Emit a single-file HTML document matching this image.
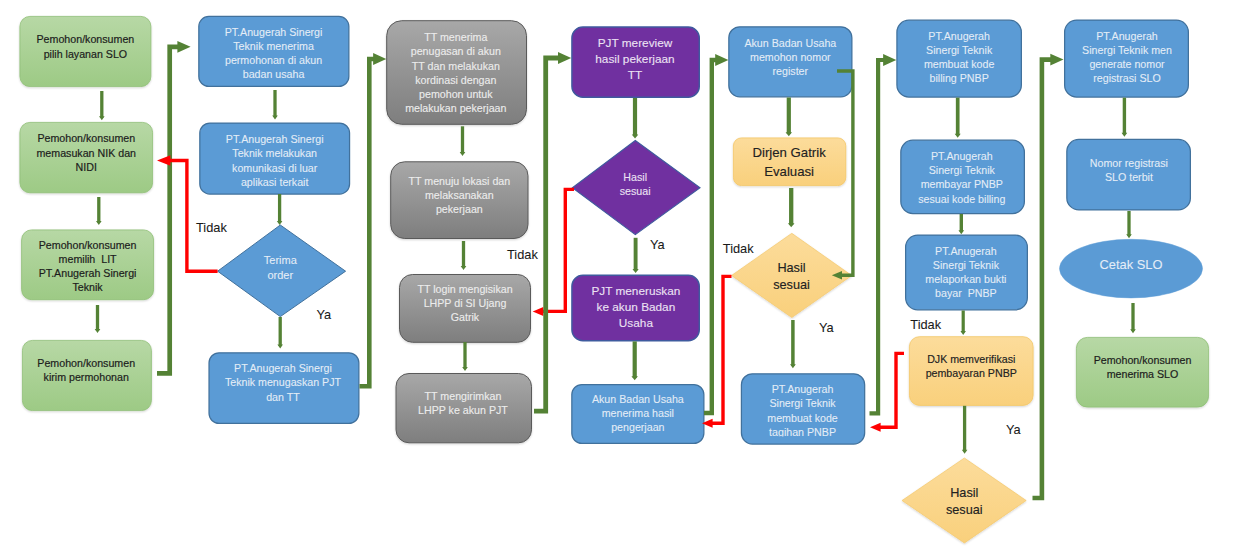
<!DOCTYPE html>
<html lang="id">
<head>
<meta charset="utf-8">
<title>Alur SLO</title>
<style>
html,body{margin:0;padding:0;background:#fff;}
body{width:1233px;height:559px;overflow:hidden;}
svg{display:block;}
text{font-family:"Liberation Sans",Arial,Helvetica,sans-serif;}
</style>
</head>
<body>
<svg width="1233" height="559" viewBox="0 0 1233 559">
<defs>
<linearGradient id="gGreen" x1="0" y1="0" x2="0" y2="1"><stop offset="0" stop-color="#b7d8a5"/><stop offset="1" stop-color="#9dca85"/></linearGradient>
<linearGradient id="gGray" x1="0" y1="0" x2="0" y2="1"><stop offset="0" stop-color="#a8a8a8"/><stop offset="1" stop-color="#7e7e7e"/></linearGradient>
<linearGradient id="gOrange" x1="0" y1="0" x2="0" y2="1"><stop offset="0" stop-color="#fcdc9b"/><stop offset="1" stop-color="#f9d07c"/></linearGradient>
<filter id="sh" x="-10%" y="-10%" width="120%" height="125%"><feGaussianBlur in="SourceAlpha" stdDeviation="1.2"/><feOffset dy="1"/><feComponentTransfer><feFuncA type="linear" slope="0.18"/></feComponentTransfer><feMerge><feMergeNode/><feMergeNode in="SourceGraphic"/></feMerge></filter>
</defs>
<rect width="1233" height="559" fill="#ffffff"/>

<g id="shapes">
<rect x="19.90" y="16.40" width="131.00" height="70.20" rx="10" ry="10" fill="url(#gGreen)" stroke="#8fbf76" stroke-width="0.8" filter="url(#sh)"/>
<rect x="19.90" y="122.40" width="132.70" height="70.40" rx="10" ry="10" fill="url(#gGreen)" stroke="#8fbf76" stroke-width="0.8" filter="url(#sh)"/>
<rect x="21.60" y="229.90" width="132.00" height="69.80" rx="10" ry="10" fill="url(#gGreen)" stroke="#8fbf76" stroke-width="0.8" filter="url(#sh)"/>
<rect x="22.40" y="340.40" width="129.00" height="70.20" rx="10" ry="10" fill="url(#gGreen)" stroke="#8fbf76" stroke-width="0.8" filter="url(#sh)"/>
<rect x="198.82" y="16.43" width="150.05" height="69.95" rx="10" ry="10" fill="#5b9bd5" stroke="#41719c" stroke-width="1.25"/>
<rect x="199.82" y="123.12" width="149.75" height="70.95" rx="10" ry="10" fill="#5b9bd5" stroke="#41719c" stroke-width="1.25"/>
<rect x="209.03" y="352.82" width="149.85" height="70.55" rx="10" ry="10" fill="#5b9bd5" stroke="#41719c" stroke-width="1.25"/>
<rect x="386.70" y="20.70" width="139.80" height="103.60" rx="15" ry="15" fill="url(#gGray)" stroke="#5a5a5a" stroke-width="1.0" filter="url(#sh)"/>
<rect x="390.70" y="161.80" width="137.30" height="76.70" rx="14" ry="14" fill="url(#gGray)" stroke="#5a5a5a" stroke-width="1.0" filter="url(#sh)"/>
<rect x="399.50" y="274.50" width="131.00" height="67.80" rx="13" ry="13" fill="url(#gGray)" stroke="#5a5a5a" stroke-width="1.0" filter="url(#sh)"/>
<rect x="396.00" y="373.50" width="135.50" height="69.30" rx="13" ry="13" fill="url(#gGray)" stroke="#5a5a5a" stroke-width="1.0" filter="url(#sh)"/>
<rect x="571.90" y="27.00" width="127.40" height="70.30" rx="11" ry="11" fill="#7030a0" stroke="#3f5a9e" stroke-width="1.4"/>
<rect x="571.90" y="275.30" width="127.40" height="65.40" rx="11" ry="11" fill="#7030a0" stroke="#3f5a9e" stroke-width="1.4"/>
<rect x="571.83" y="384.62" width="132.05" height="58.75" rx="10" ry="10" fill="#5b9bd5" stroke="#41719c" stroke-width="1.25"/>
<rect x="728.83" y="26.82" width="123.05" height="70.05" rx="11" ry="11" fill="#5b9bd5" stroke="#41719c" stroke-width="1.25"/>
<rect x="733.40" y="137.90" width="112.40" height="47.70" rx="8" ry="8" fill="url(#gOrange)" stroke="#f4c766" stroke-width="0.8" filter="url(#sh)"/>
<rect x="741.42" y="373.82" width="123.25" height="70.25" rx="11" ry="11" fill="#5b9bd5" stroke="#41719c" stroke-width="1.25"/>
<rect x="896.92" y="20.23" width="124.45" height="76.85" rx="12" ry="12" fill="#5b9bd5" stroke="#41719c" stroke-width="1.25"/>
<rect x="900.83" y="140.22" width="123.55" height="73.35" rx="12" ry="12" fill="#5b9bd5" stroke="#41719c" stroke-width="1.25"/>
<rect x="905.62" y="235.12" width="121.75" height="74.75" rx="12" ry="12" fill="#5b9bd5" stroke="#41719c" stroke-width="1.25"/>
<rect x="909.40" y="336.70" width="123.70" height="68.70" rx="10" ry="10" fill="url(#gOrange)" stroke="#f4c766" stroke-width="0.8" filter="url(#sh)"/>
<rect x="1064.62" y="20.12" width="123.75" height="76.95" rx="12" ry="12" fill="#5b9bd5" stroke="#41719c" stroke-width="1.25"/>
<rect x="1066.83" y="139.43" width="123.55" height="70.45" rx="12" ry="12" fill="#5b9bd5" stroke="#41719c" stroke-width="1.25"/>
<rect x="1076.40" y="337.40" width="132.20" height="69.70" rx="11" ry="11" fill="url(#gGreen)" stroke="#8fbf76" stroke-width="0.8" filter="url(#sh)"/>
<polygon points="280.3,225 345.6,271.2 280.3,316.6 217.6,271.2" fill="#5b9bd5" stroke="#41719c" stroke-width="1.00" stroke-linejoin="miter"/>
<polygon points="635.3,140.5 700,187.8 635.3,234.6 572.4,187.8" fill="#7030a0" stroke="#3f5a9e" stroke-width="1.12" stroke-linejoin="miter"/>
<polygon points="791.8,233.3 851.8,275.5 791.8,317.6 731.5,275.5" fill="url(#gOrange)" stroke="#f4c766" stroke-width="0.64" stroke-linejoin="miter" filter="url(#sh)"/>
<polygon points="964.4,458 1026.2,500.5 964.4,543 902,500.5" fill="url(#gOrange)" stroke="#f4c766" stroke-width="0.64" stroke-linejoin="miter" filter="url(#sh)"/>
<ellipse cx="1131" cy="268.6" rx="71.5" ry="29.3" fill="#5b9bd5" stroke="#5b9bd5" stroke-width="0.5"/>
</g>
<g id="red-under">
<path d="M574,189.4 H565.3 V311.4 H540.7" fill="none" stroke="#ff0000" stroke-width="3.4" stroke-linejoin="miter"/><path d="M532.7,311.4 L543.3000000000001,306.9 V315.9 Z" fill="#ff0000"/>
<path d="M731.5,276.4 H723 V423.2 H710" fill="none" stroke="#ff0000" stroke-width="3.4" stroke-linejoin="miter"/><path d="M702,423.2 L712.6,418.7 V427.7 Z" fill="#ff0000"/>
<path d="M904,353.4 H896 V427.2 H878" fill="none" stroke="#ff0000" stroke-width="3.4" stroke-linejoin="miter"/><path d="M870,427.2 L880.6,422.7 V431.7 Z" fill="#ff0000"/>
</g>
<g id="arrows" stroke="#548235" fill="#548235">
<path d="M101.8,91 V117.8" stroke-width="3.3" fill="none"/>
<path d="M99.00,116.30 H104.60 L101.8,120.3 Z" stroke="none"/>
<path d="M98.8,197 V222.5" stroke-width="3.3" fill="none"/>
<path d="M96.00,221.00 H101.60 L98.8,225 Z" stroke="none"/>
<path d="M97.5,305 V330.5" stroke-width="3.3" fill="none"/>
<path d="M94.70,329.00 H100.30 L97.5,333 Z" stroke="none"/>
<path d="M275,90 V117.0" stroke-width="3.3" fill="none"/>
<path d="M272.20,115.50 H277.80 L275,119.5 Z" stroke="none"/>
<path d="M279.6,194 V222.5" stroke-width="3.3" fill="none"/>
<path d="M276.80,221.00 H282.40 L279.6,225 Z" stroke="none"/>
<path d="M280.2,317 V346.0" stroke-width="3.3" fill="none"/>
<path d="M277.40,344.50 H283.00 L280.2,348.5 Z" stroke="none"/>
<path d="M462.5,126.3 V153.5" stroke-width="3.3" fill="none"/>
<path d="M459.70,152.00 H465.30 L462.5,156 Z" stroke="none"/>
<path d="M463.5,241 V267.5" stroke-width="3.3" fill="none"/>
<path d="M460.70,266.00 H466.30 L463.5,270 Z" stroke="none"/>
<path d="M465,342 V368.5" stroke-width="3.3" fill="none"/>
<path d="M462.20,367.00 H467.80 L465,371 Z" stroke="none"/>
<path d="M635,98 V136.1" stroke-width="4.2" fill="none"/>
<path d="M631.75,134.60 H638.25 L635,138.6 Z" stroke="none"/>
<path d="M635.6,237.8 V270.4" stroke-width="3.9" fill="none"/>
<path d="M632.50,268.90 H638.70 L635.6,272.9 Z" stroke="none"/>
<path d="M634.7,341.4 V377.7" stroke-width="4.2" fill="none"/>
<path d="M631.45,376.20 H637.95 L634.7,380.2 Z" stroke="none"/>
<path d="M788.8,97.5 V133.7" stroke-width="4.2" fill="none"/>
<path d="M785.55,132.20 H792.05 L788.8,136.2 Z" stroke="none"/>
<path d="M791.2,188 V224.8" stroke-width="4.3" fill="none"/>
<path d="M787.90,223.30 H794.50 L791.2,227.3 Z" stroke="none"/>
<path d="M792.9,320 V365.8" stroke-width="3.5" fill="none"/>
<path d="M790.00,364.30 H795.80 L792.9,368.3 Z" stroke="none"/>
<path d="M957.7,97.7 V135.2" stroke-width="3.7" fill="none"/>
<path d="M954.70,133.70 H960.70 L957.7,137.7 Z" stroke="none"/>
<path d="M961.3,214 V231.7" stroke-width="3.4" fill="none"/>
<path d="M958.45,230.20 H964.15 L961.3,234.2 Z" stroke="none"/>
<path d="M963.2,310.5 V332.5" stroke-width="3.2" fill="none"/>
<path d="M960.45,331.00 H965.95 L963.2,335 Z" stroke="none"/>
<path d="M964.6,405.8 V451.3" stroke-width="3.3" fill="none"/>
<path d="M961.80,449.80 H967.40 L964.6,453.8 Z" stroke="none"/>
<path d="M1124.4,97.7 V134.2" stroke-width="3.4" fill="none"/>
<path d="M1121.55,132.70 H1127.25 L1124.4,136.7 Z" stroke="none"/>
<path d="M1129,211 V235.7" stroke-width="3.3" fill="none"/>
<path d="M1126.20,234.20 H1131.80 L1129,238.2 Z" stroke="none"/>
<path d="M1133,303 V330.7" stroke-width="3.3" fill="none"/>
<path d="M1130.20,329.20 H1135.80 L1133,333.2 Z" stroke="none"/>
<path d="M837,71 H852.9 V275.2 H838" stroke-width="3.4" fill="none"/>
<path d="M831.8,275.2 L842,271 V279.4 Z" stroke="none"/>
</g>
<g id="elbows" stroke="#548235" fill="none" stroke-linejoin="miter">
<path d="M157,373.4 H169.7 V46.8 H179.6" stroke-width="4.7"/>
<path d="M190.6,46.8 L177.4,40.9 V52.699999999999996 Z" fill="#548235" stroke="none"/>
<path d="M359.5,386.2 H369.3 V59 H375.3" stroke-width="4.6"/>
<path d="M386.3,59 L373.1,53.1 V64.9 Z" fill="#548235" stroke="none"/>
<path d="M534,411.2 H545.7 V58 H560.2" stroke-width="4.8"/>
<path d="M571.2,58 L558.0,52.1 V63.9 Z" fill="#548235" stroke="none"/>
<path d="M704,413 H711.8 V60 H717.4" stroke-width="4.4"/>
<path d="M728.4,60 L715.1999999999999,54.1 V65.9 Z" fill="#548235" stroke="none"/>
<path d="M869.5,413.4 H878.1 V60 H885.3" stroke-width="4.2"/>
<path d="M896.3,60 L883.0999999999999,54.1 V65.9 Z" fill="#548235" stroke="none"/>
<path d="M1032.5,498 H1041.9 V59.6 H1052.5" stroke-width="4.6"/>
<path d="M1063.5,59.6 L1050.3,53.7 V65.5 Z" fill="#548235" stroke="none"/>
</g>
<g id="red-over">
<path d="M217.6,271.3 H186.9 V160.5 H165" fill="none" stroke="#ff0000" stroke-width="3.4" stroke-linejoin="miter"/><path d="M157,160.5 L170.4,155.3 V165.7 Z" fill="#ff0000"/>
</g>
<defs><clipPath id="cutTag"><rect x="740" y="373" width="126" height="63.4"/></clipPath></defs>
<g id="labels" stroke-width="0.08" stroke-linejoin="round">
<text x="85.40" text-anchor="middle" font-size="10.67" fill="#1c1c1c" stroke="#1c1c1c" stroke-width="0.18" xml:space="preserve"><tspan x="85.40" y="43.20">Pemohon/konsumen</tspan><tspan x="85.40" y="57.50">pilih layanan SLO</tspan></text>
<text x="86.25" text-anchor="middle" font-size="10.67" fill="#1c1c1c" stroke="#1c1c1c" stroke-width="0.18" xml:space="preserve"><tspan x="86.25" y="142.20">Pemohon/konsumen</tspan><tspan x="86.25" y="156.60">memasukan NIK dan</tspan><tspan x="86.25" y="171.00">NIDI</tspan></text>
<text x="87.60" text-anchor="middle" font-size="10.67" fill="#1c1c1c" stroke="#1c1c1c" stroke-width="0.18" xml:space="preserve"><tspan x="87.60" y="248.70">Pemohon/konsumen</tspan><tspan x="87.60" y="262.90">memilih  LIT</tspan><tspan x="87.60" y="277.10">PT.Anugerah Sinergi</tspan><tspan x="87.60" y="291.30">Teknik</tspan></text>
<text x="86.20" text-anchor="middle" font-size="10.67" fill="#1c1c1c" stroke="#1c1c1c" stroke-width="0.18" xml:space="preserve"><tspan x="86.20" y="367.00">Pemohon/konsumen</tspan><tspan x="86.20" y="381.30">kirim permohonan</tspan></text>
<text x="273.55" text-anchor="middle" font-size="10.67" fill="#e4edf7" stroke="#e4edf7" stroke-width="0.08" xml:space="preserve"><tspan x="273.55" y="36.20">PT.Anugerah Sinergi</tspan><tspan x="273.55" y="50.20">Teknik menerima</tspan><tspan x="273.55" y="64.20">permohonan di akun</tspan><tspan x="273.55" y="78.20">badan usaha</tspan></text>
<text x="274.70" text-anchor="middle" font-size="10.67" fill="#e4edf7" stroke="#e4edf7" stroke-width="0.08" xml:space="preserve"><tspan x="274.70" y="143.00">PT.Anugerah Sinergi</tspan><tspan x="274.70" y="157.25">Teknik melakukan</tspan><tspan x="274.70" y="171.50">komunikasi di luar</tspan><tspan x="274.70" y="185.75">aplikasi terkait</tspan></text>
<text x="282.95" text-anchor="middle" font-size="10.67" fill="#e4edf7" stroke="#e4edf7" stroke-width="0.08" xml:space="preserve"><tspan x="282.95" y="372.00">PT.Anugerah Sinergi</tspan><tspan x="282.95" y="386.25">Teknik menugaskan PJT</tspan><tspan x="282.95" y="400.50">dan TT</tspan></text>
<text x="455.80" text-anchor="middle" font-size="10.67" fill="#ececec" stroke="#ececec" stroke-width="0.12" xml:space="preserve"><tspan x="455.80" y="41.20">TT menerima</tspan><tspan x="455.80" y="55.40">penugasan di akun</tspan><tspan x="455.80" y="69.60">TT dan melakukan</tspan><tspan x="455.80" y="83.80">kordinasi dengan</tspan><tspan x="455.80" y="98.00">pemohon untuk</tspan><tspan x="455.80" y="112.20">melakukan pekerjaan</tspan></text>
<text x="459.35" text-anchor="middle" font-size="10.67" fill="#ececec" stroke="#ececec" stroke-width="0.12" xml:space="preserve"><tspan x="459.35" y="184.50">TT menuju lokasi dan</tspan><tspan x="459.35" y="198.75">melaksanakan</tspan><tspan x="459.35" y="213.00">pekerjaan</tspan></text>
<text x="465.00" text-anchor="middle" font-size="10.67" fill="#ececec" stroke="#ececec" stroke-width="0.12" xml:space="preserve"><tspan x="465.00" y="293.00">TT login mengisikan</tspan><tspan x="465.00" y="307.00">LHPP di SI Ujang</tspan><tspan x="465.00" y="321.00">Gatrik</tspan></text>
<text x="462.95" text-anchor="middle" font-size="10.67" fill="#ececec" stroke="#ececec" stroke-width="0.12" xml:space="preserve"><tspan x="462.95" y="399.50">TT mengirimkan</tspan><tspan x="462.95" y="413.75">LHPP ke akun PJT</tspan></text>
<text x="635.00" text-anchor="middle" font-size="11.8" fill="#ece2f3" stroke="#ece2f3" stroke-width="0.1" xml:space="preserve"><tspan x="635.00" y="47.30">PJT mereview</tspan><tspan x="635.00" y="63.15">hasil pekerjaan</tspan><tspan x="635.00" y="79.00">TT</tspan></text>
<text x="635.90" text-anchor="middle" font-size="11.8" fill="#ece2f3" stroke="#ece2f3" stroke-width="0.1" xml:space="preserve"><tspan x="635.90" y="295.40">PJT meneruskan</tspan><tspan x="635.90" y="311.30">ke akun Badan</tspan><tspan x="635.90" y="327.20">Usaha</tspan></text>
<text x="637.85" text-anchor="middle" font-size="10.67" fill="#e4edf7" stroke="#e4edf7" stroke-width="0.08" xml:space="preserve"><tspan x="637.85" y="403.25">Akun Badan Usaha</tspan><tspan x="637.85" y="417.35">menerima hasil</tspan><tspan x="637.85" y="431.45">pengerjaan</tspan></text>
<text x="790.35" text-anchor="middle" font-size="10.67" fill="#e4edf7" stroke="#e4edf7" stroke-width="0.08" xml:space="preserve"><tspan x="790.35" y="46.75">Akun Badan Usaha</tspan><tspan x="790.35" y="60.75">memohon nomor</tspan><tspan x="790.35" y="74.75">register</tspan></text>
<text x="789.10" text-anchor="middle" font-size="13.2" fill="#222222" stroke="#222222" stroke-width="0.15" xml:space="preserve"><tspan x="789.10" y="157.40">Dirjen Gatrik</tspan><tspan x="789.10" y="176.15">Evaluasi</tspan></text>
<text x="802.55" text-anchor="middle" font-size="10.67" fill="#e4edf7" stroke="#e4edf7" clip-path="url(#cutTag)" stroke-width="0.08" xml:space="preserve"><tspan x="802.55" y="393.20">PT.Anugerah</tspan><tspan x="802.55" y="407.35">Sinergi Teknik</tspan><tspan x="802.55" y="421.50">membuat kode</tspan><tspan x="802.55" y="435.65">tagihan PNBP</tspan></text>
<text x="959.15" text-anchor="middle" font-size="10.67" fill="#e4edf7" stroke="#e4edf7" stroke-width="0.08" xml:space="preserve"><tspan x="959.15" y="40.00">PT.Anugerah</tspan><tspan x="959.15" y="54.10">Sinergi Teknik</tspan><tspan x="959.15" y="68.20">membuat kode</tspan><tspan x="959.15" y="82.30">billing PNBP</tspan></text>
<text x="961.80" text-anchor="middle" font-size="10.67" fill="#e4edf7" stroke="#e4edf7" stroke-width="0.08" xml:space="preserve"><tspan x="961.80" y="160.00">PT.Anugerah</tspan><tspan x="961.80" y="174.20">Sinergi Teknik</tspan><tspan x="961.80" y="188.40">membayar PNBP</tspan><tspan x="961.80" y="202.60">sesuai kode billing</tspan></text>
<text x="965.90" text-anchor="middle" font-size="10.67" fill="#e4edf7" stroke="#e4edf7" stroke-width="0.08" xml:space="preserve"><tspan x="965.90" y="255.00">PT.Anugerah</tspan><tspan x="965.90" y="269.10">Sinergi Teknik</tspan><tspan x="965.90" y="283.20">melaporkan bukti</tspan><tspan x="965.90" y="297.30">bayar  PNBP</tspan></text>
<text x="971.25" text-anchor="middle" font-size="10.67" fill="#222222" stroke="#222222" stroke-width="0.15" xml:space="preserve"><tspan x="971.25" y="363.00">DJK memverifikasi</tspan><tspan x="971.25" y="376.75">pembayaran PNBP</tspan></text>
<text x="1127.00" text-anchor="middle" font-size="10.67" fill="#e4edf7" stroke="#e4edf7" stroke-width="0.08" xml:space="preserve"><tspan x="1127.00" y="40.00">PT.Anugerah</tspan><tspan x="1127.00" y="54.10">Sinergi Teknik men</tspan><tspan x="1127.00" y="68.20">generate nomor</tspan><tspan x="1127.00" y="82.30">registrasi SLO</tspan></text>
<text x="1128.90" text-anchor="middle" font-size="10.67" fill="#e4edf7" stroke="#e4edf7" stroke-width="0.08" xml:space="preserve"><tspan x="1128.90" y="166.75">Nomor registrasi</tspan><tspan x="1128.90" y="180.75">SLO terbit</tspan></text>
<text x="1142.50" text-anchor="middle" font-size="10.67" fill="#1c1c1c" stroke="#1c1c1c" stroke-width="0.18" xml:space="preserve"><tspan x="1142.50" y="364.25">Pemohon/konsumen</tspan><tspan x="1142.50" y="378.25">menerima SLO</tspan></text>
<text x="280.30" text-anchor="middle" font-size="11.0" fill="#e4edf7" stroke="#e4edf7" stroke-width="0.08" xml:space="preserve"><tspan x="280.30" y="264.20">Terima</tspan><tspan x="280.30" y="278.50">order</tspan></text>
<text x="635.20" text-anchor="middle" font-size="10.67" fill="#ece2f3" stroke="#ece2f3" stroke-width="0.1" xml:space="preserve"><tspan x="635.20" y="181.25">Hasil</tspan><tspan x="635.20" y="195.35">sesuai</tspan></text>
<text x="791.50" text-anchor="middle" font-size="12.7" fill="#222222" stroke="#222222" stroke-width="0.15" xml:space="preserve"><tspan x="791.50" y="272.20">Hasil</tspan><tspan x="791.50" y="289.20">sesuai</tspan></text>
<text x="964.30" text-anchor="middle" font-size="12.7" fill="#222222" stroke="#222222" stroke-width="0.15" xml:space="preserve"><tspan x="964.30" y="497.00">Hasil</tspan><tspan x="964.30" y="514.00">sesuai</tspan></text>
<text x="1131.00" text-anchor="middle" font-size="12.9" fill="#e4edf7" stroke="#e4edf7" stroke-width="0.08" xml:space="preserve"><tspan x="1131.00" y="268.60">Cetak SLO</tspan></text>
<text x="196" y="232" font-size="12.8" fill="#1a1a1a" stroke="#1a1a1a">Tidak</text>
<text x="316.5" y="318.8" font-size="12.8" fill="#1a1a1a" stroke="#1a1a1a">Ya</text>
<text x="507" y="259.2" font-size="12.8" fill="#1a1a1a" stroke="#1a1a1a">Tidak</text>
<text x="650" y="249.4" font-size="12.8" fill="#1a1a1a" stroke="#1a1a1a">Ya</text>
<text x="722.8" y="252.8" font-size="12.8" fill="#1a1a1a" stroke="#1a1a1a">Tidak</text>
<text x="819" y="332" font-size="12.8" fill="#1a1a1a" stroke="#1a1a1a">Ya</text>
<text x="910.3" y="329" font-size="12.8" fill="#1a1a1a" stroke="#1a1a1a">Tidak</text>
<text x="1006" y="434.3" font-size="12.8" fill="#1a1a1a" stroke="#1a1a1a">Ya</text>
</g>
</svg>
</body>
</html>
